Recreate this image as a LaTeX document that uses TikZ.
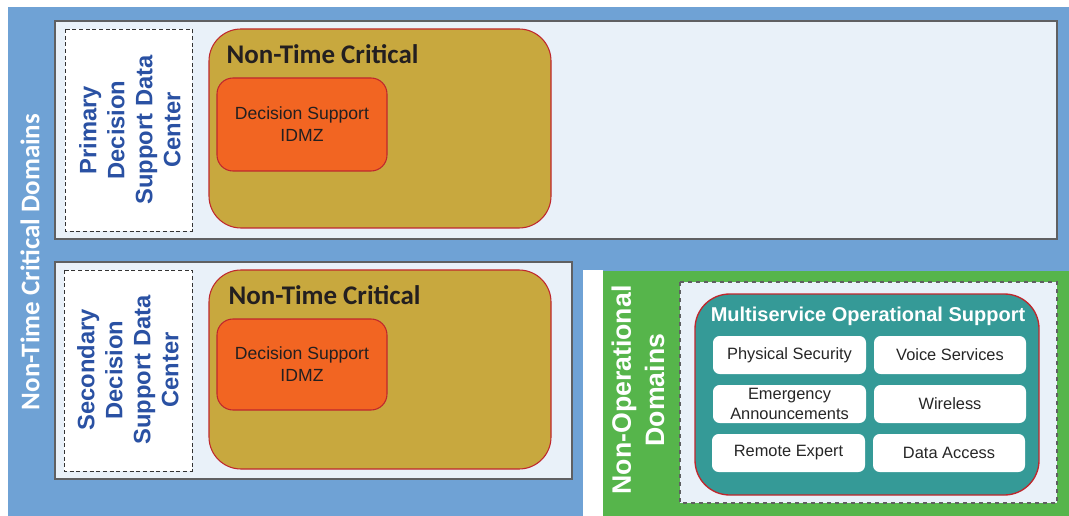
\documentclass[tikz,border=0pt]{standalone}
\usepackage{fontspec}
\setmainfont{Liberation Sans}
\newfontfamily\calib{Carlito}
\definecolor{bgblue}{HTML}{6FA2D5}
\definecolor{lightbox}{HTML}{E9F1F9}
\definecolor{boxgray}{HTML}{5F6062}
\definecolor{goldbox}{HTML}{C8A83E}
\definecolor{redline}{HTML}{BF272D}
\definecolor{orangebox}{HTML}{F26522}
\definecolor{greenbg}{HTML}{56B54B}
\definecolor{tealbox}{HTML}{359A97}
\definecolor{darkblue}{HTML}{2A51A3}
\definecolor{textdark}{HTML}{231F20}
\tikzset{
  lightpanel/.style={draw=boxgray, line width=1.1pt, fill=lightbox},
  dashpanel/.style={draw=black!80, densely dashed, line width=0.6pt, fill=white},
  dashlight/.style={draw=boxgray, dashed, line width=0.8pt, fill=lightbox},
  goldpanel/.style={draw=redline, line width=0.8pt, fill=goldbox, rounded corners=24},
  orangepanel/.style={draw=redline, line width=0.8pt, fill=orangebox, rounded corners=12},
  tealpanel/.style={draw=redline, line width=1pt, fill=tealbox, rounded corners=26},
  svcbox/.style={fill=white, rounded corners=5},
  titletxt/.style={font=\calib\bfseries\fontsize{20.2}{24}\selectfont, text=textdark},
  idmztxt/.style={font=\fontsize{13.2}{16}\selectfont, text=textdark, align=center},
  dctxt/.style={font=\bfseries\fontsize{17.8}{21}\selectfont, text=darkblue, align=center, rotate=90},
  svctxt/.style={font=\fontsize{12.3}{14.5}\selectfont, text=black!85, align=center},
}
\begin{document}
\begin{tikzpicture}[x=0.75pt,y=-0.75pt]
\useasboundingbox (0,0) rectangle (1069,516);
% background
\fill[bgblue] (8,7) rectangle (1069,516);
\fill[white] (583,270) rectangle (603,516);
\fill[greenbg] (603,271) rectangle (1069,516);
\node[font=\calib\bfseries\fontsize{20.2}{24}\selectfont, text=white, rotate=90] (ntcd) at (30,262) {Non-Time Critical Domains};

% primary
\draw[lightpanel] (55,21) rectangle (1057,239);
\draw[dashpanel] (65,29) rectangle (192,231);
\node[dctxt] (pdc) at (130,130) {Primary\\Decision\\Support Data\\Center};
\draw[goldpanel] (209,29) rectangle (551,228);
\node[titletxt, anchor=west] (ntc1) at (222,54) {Non-Time Critical};
\draw[orangepanel] (217,78) rectangle (387,171);
\node[idmztxt] (ds1) at (302,124) {Decision Support\\IDMZ};

% secondary
\draw[lightpanel] (55,262) rectangle (572,479);
\draw[dashpanel] (64,270) rectangle (192,471);
\node[dctxt] (sdc) at (128,370) {Secondary\\Decision\\Support Data\\Center};
\draw[goldpanel] (209,270) rectangle (551,469);
\node[titletxt, anchor=west] (ntc2) at (224,295) {Non-Time Critical};
\draw[orangepanel] (217,319) rectangle (387,410);
\node[idmztxt] (ds2) at (302,364) {Decision Support\\IDMZ};

% non-operational
\node[font=\bfseries\fontsize{20}{25}\selectfont, text=white, rotate=90, align=center] (nod) at (638,390) {Non-Operational\\Domains};
\draw[dashlight] (680,282) rectangle (1057,503);
\draw[tealpanel] (695,294) rectangle (1039,495);
\node[font=\bfseries\fontsize{15}{18}\selectfont, text=white] (mos) at (868,316) {Multiservice Operational Support};
\fill[svcbox] (713,336) rectangle (866,374);
\fill[svcbox] (874,336) rectangle (1026,374);
\fill[svcbox] (713,385) rectangle (866,423);
\fill[svcbox] (874,385) rectangle (1026,423);
\fill[svcbox] (712,434) rectangle (865,472);
\fill[svcbox] (873,434) rectangle (1025,472);
\node[svctxt] (ps) at (789.5,355) {Physical Security};
\node[svctxt] (vs) at (950,355) {Voice Services};
\node[svctxt] (ea) at (789.5,404) {Emergency\\Announcements};
\node[svctxt] (wl) at (950,404) {Wireless};
\node[svctxt] (re) at (788.5,453) {Remote Expert};
\node[svctxt] (da) at (949,453) {Data Access};
\end{tikzpicture}
\end{document}
